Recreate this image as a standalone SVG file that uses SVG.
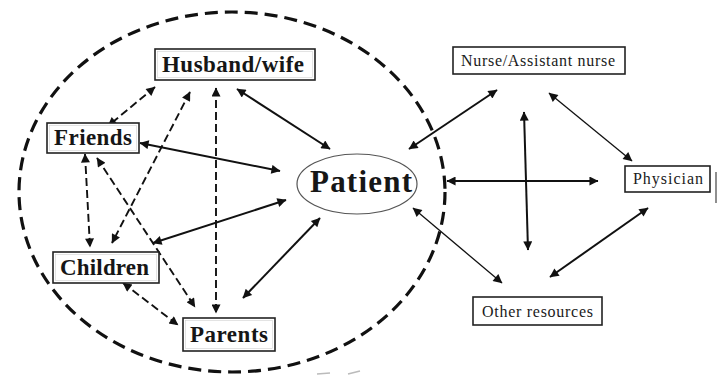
<svg xmlns="http://www.w3.org/2000/svg" width="721" height="376" viewBox="0 0 721 376">
<style>
.box{fill:#fff;stroke:#222;stroke-width:1.6}
.inner{fill:none;stroke:#d0d0d0;stroke-width:0.6}
.big{font-family:"Liberation Serif","Times New Roman",serif;font-weight:bold;fill:#161616}
.small{font-family:"Liberation Serif","Times New Roman",serif;fill:#1a1a1a}
.dash{stroke:#111;stroke-width:1.9;stroke-dasharray:8 4;fill:none}
.solid{stroke:#111;stroke-width:2;fill:none}
.thin{stroke:#111;stroke-width:1.3;fill:none}
</style>
<defs>
<marker id="ah" viewBox="0 0 10 10" refX="9.5" refY="5" markerWidth="12" markerHeight="9" markerUnits="userSpaceOnUse" orient="auto-start-reverse">
<path d="M0,0 L10,5 L0,10 z" fill="#111"/>
</marker>
</defs>
<rect width="721" height="376" fill="#fff"/>
<ellipse id="circle" cx="232" cy="192" rx="213" ry="180" fill="none" stroke="#111" stroke-width="3.2" stroke-dasharray="13 7"/>
<g id="connectors">
<line class="dash" x1="155" y1="87" x2="108" y2="126" marker-start="url(#ah)" marker-end="url(#ah)"/>
<line class="dash" x1="190" y1="92" x2="112" y2="243" marker-start="url(#ah)" marker-end="url(#ah)"/>
<line class="dash" x1="216" y1="88" x2="216" y2="313" marker-start="url(#ah)" marker-end="url(#ah)"/>
<line class="solid" x1="237" y1="89" x2="330" y2="149" marker-start="url(#ah)" marker-end="url(#ah)"/>
<line class="solid" x1="140" y1="143" x2="280" y2="171" stroke-width="2.6" marker-start="url(#ah)" marker-end="url(#ah)"/>
<line class="dash" x1="85" y1="154" x2="90" y2="247" marker-start="url(#ah)" marker-end="url(#ah)"/>
<line class="dash" x1="97" y1="158" x2="195" y2="307" marker-start="url(#ah)" marker-end="url(#ah)"/>
<line class="solid" x1="153" y1="243" x2="286" y2="200" marker-start="url(#ah)" marker-end="url(#ah)"/>
<line class="dash" x1="123" y1="283" x2="178" y2="325" marker-start="url(#ah)" marker-end="url(#ah)"/>
<line class="solid" x1="243" y1="298" x2="320" y2="218" marker-start="url(#ah)" marker-end="url(#ah)"/>
<line class="solid" x1="497" y1="90" x2="409" y2="149" marker-start="url(#ah)" marker-end="url(#ah)"/>
<line class="thin" x1="549" y1="93" x2="632" y2="161" marker-start="url(#ah)" marker-end="url(#ah)"/>
<line class="solid" x1="524" y1="112" x2="528" y2="250" marker-start="url(#ah)" marker-end="url(#ah)"/>
<line class="solid" x1="447" y1="181" x2="598" y2="181" marker-start="url(#ah)" marker-end="url(#ah)"/>
<line class="thin" x1="413" y1="208" x2="502" y2="283" marker-start="url(#ah)" marker-end="url(#ah)"/>
<line class="solid" x1="648" y1="208" x2="550" y2="277" marker-start="url(#ah)" marker-end="url(#ah)"/>
</g>
<g id="husband">
<rect class="box" x="155" y="49" width="160" height="31"/>
<rect class="inner" x="157.5" y="51.5" width="155" height="26"/>
<text class="big" x="162" y="72" font-size="23" textLength="142" lengthAdjust="spacing">Husband/wife</text>
</g>
<g id="friends">
<rect class="box" x="47" y="123" width="92" height="30"/>
<rect class="inner" x="49.5" y="125.5" width="87" height="25"/>
<text class="big" x="54" y="145" font-size="23" textLength="78" lengthAdjust="spacing">Friends</text>
</g>
<g id="children">
<rect class="box" x="53" y="252" width="106" height="31"/>
<rect class="inner" x="55.5" y="254.5" width="101" height="26"/>
<text class="big" x="60" y="275" font-size="23" textLength="89" lengthAdjust="spacing">Children</text>
</g>
<g id="parents">
<rect class="box" x="183" y="318" width="92" height="33"/>
<rect class="inner" x="185.5" y="320.5" width="87" height="28"/>
<text class="big" x="190" y="342" font-size="23" textLength="78" lengthAdjust="spacing">Parents</text>
</g>
<g id="patient">
<ellipse cx="357" cy="184" rx="60" ry="30" fill="#fff" stroke="#555" stroke-width="1.2"/>
<text class="big" x="310" y="192" font-size="31" textLength="102" lengthAdjust="spacing">Patient</text>
</g>
<g id="nurse">
<rect class="box" x="453" y="47" width="172" height="27" stroke-width="1.3"/>
<text class="small" x="461" y="66" font-size="16" textLength="154" lengthAdjust="spacing">Nurse/Assistant nurse</text>
</g>
<g id="physician">
<rect class="box" x="625" y="166" width="85" height="26" stroke-width="1.3"/>
<text class="small" x="633" y="184" font-size="16" textLength="70" lengthAdjust="spacing">Physician</text>
<line x1="716" y1="172" x2="716" y2="203" stroke="#444" stroke-width="1.2"/>
</g>
<g id="other">
<rect class="box" x="473" y="297" width="129" height="28" stroke-width="1.3"/>
<text class="small" x="482" y="317" font-size="16" textLength="111" lengthAdjust="spacing">Other resources</text>
</g>
<g id="marks" stroke="#bbb" stroke-width="1.5">
<line x1="317" y1="374" x2="330" y2="373"/>
<line x1="348" y1="374" x2="360" y2="371"/>
</g>
</svg>
